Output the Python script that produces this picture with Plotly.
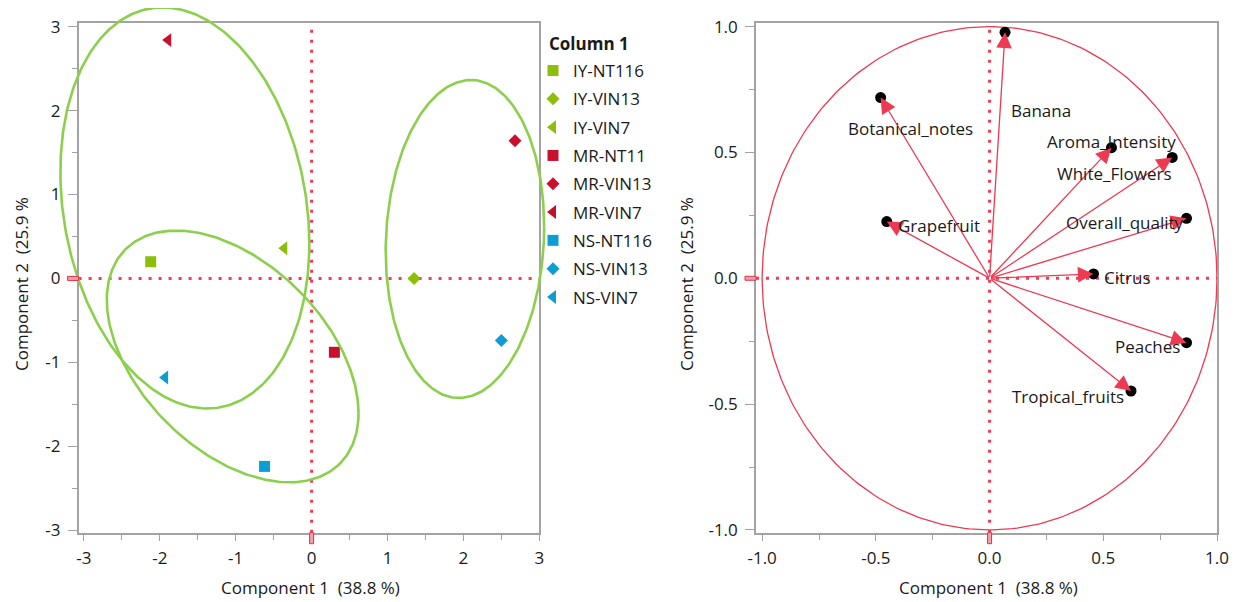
import numpy as np
import plotly.graph_objects as go

# page body has an 8px margin: the figure is sized/positioned to compensate
OFF = 8
W, H = 1240 - OFF, 602 - OFF
FONT = "Open Sans"

# ---------------- data: score plot ----------------
samples = ["IY-NT116", "IY-VIN13", "IY-VIN7", "MR-NT11", "MR-VIN13", "MR-VIN7",
           "NS-NT116", "NS-VIN13", "NS-VIN7"]
comp1 = [-2.12, 1.35, -0.36, 0.30, 2.68, -1.89, -0.62, 2.50, -1.93]
comp2 = [0.20, 0.00, 0.36, -0.88, 1.64, 2.84, -2.24, -0.74, -1.18]

# density ellipses (center and covariance-like shape)
ell_cx = [-1.67, -1.04, 2.02]
ell_cy = [0.84, -0.93, 0.47]
ell_sxx = [2.69, 2.75, 1.09]
ell_syy = [5.71, 2.25, 3.59]
ell_sxy = [-0.70, -1.12, 0.15]

# ---------------- data: loading plot ----------------
attributes = ["Banana", "Botanical_notes", "Grapefruit", "Aroma_Intensity", "White_Flowers",
              "Overall_quality", "Citrus", "Peaches", "Tropical_fruits"]
load1 = [0.068, -0.479, -0.452, 0.536, 0.803, 0.866, 0.457, 0.866, 0.622]
load2 = [0.977, 0.718, 0.225, 0.519, 0.480, 0.238, 0.017, -0.256, -0.448]

# ---------------- tick labels ----------------
left_ticks = [-3, -2, -1, 0, 1, 2, 3]
left_ticktext = ["-3", "-2", "-1", "0", "1", "2", "3"]
right_ticks = [-1.0, -0.5, 0.0, 0.5, 1.0]
right_ticktext = ["-1.0", "-0.5", "0.0", "0.5", "1.0"]

# ---------------- styles / layout (not data) ----------------
group_colors = {"IY": "#8DBE0A", "MR": "#C8102E", "NS": "#0B9DD3"}
wine_symbols = {"NT116": "square", "NT11": "square", "VIN13": "diamond", "VIN7": "triangle-left"}
ellipse_color = "#8CCF4D"
ref_color = "#F03C55"
arrow_color = "#EC3A52"
axis_color = "#A3A3A3"
text_color = "#1A1A1A"

label_anchor = ["left", "center", "left", "center", "center", "center", "left", "right", "right"]
label_dx = [4, 30, 9, 0, -58, -62, 8, -5, -5]
label_dy = [-78, -31, -4, 6, -16, -4, -4, -4, -5]

x1_range = [-3.07, 3.0]
y1_range = [-3.03, 3.04]
x2_range = [-1.027, 1.0]
y2_range = [-1.011, 1.013]
L_px = (78.6, 539.3)
R_px = (756.0, 1217.0)
TB_px = (23.3, 532.7)


def px(xp):
    return (xp - OFF) / W


def py(yp):
    return 1 - (yp - OFF) / H


xdom1 = [px(L_px[0]), px(L_px[1])]
xdom2 = [px(R_px[0]), px(R_px[1])]
ydom = [py(TB_px[1]), py(TB_px[0])]

# overlay (invisible) axes with same scale but larger area, so ellipses are not clipped
sx = (L_px[1] - L_px[0]) / (x1_range[1] - x1_range[0])
sy = (TB_px[1] - TB_px[0]) / (y1_range[1] - y1_range[0])
xdom3 = [0.0, 0.46]
ydom3 = [0.0, 1.0]
x3_range = [x1_range[0] - (xdom1[0] - xdom3[0]) * W / sx,
            x1_range[1] + (xdom3[1] - xdom1[1]) * W / sx]
y3_range = [y1_range[0] - (ydom[0] - ydom3[0]) * H / sy,
            y1_range[1] + (ydom3[1] - ydom[1]) * H / sy]

fig = go.Figure()

# ellipses
t = np.linspace(0, 2 * np.pi, 300)
for cx, cy, sxx, syy, sxy in zip(ell_cx, ell_cy, ell_sxx, ell_syy, ell_sxy):
    l11 = np.sqrt(sxx)
    l21 = sxy / l11
    l22 = np.sqrt(syy - l21 ** 2)
    fig.add_trace(go.Scatter(
        x=cx + l11 * np.cos(t), y=cy + l21 * np.cos(t) + l22 * np.sin(t),
        mode="lines", line=dict(color=ellipse_color, width=2.6),
        xaxis="x3", yaxis="y3", showlegend=False, hoverinfo="skip"))

# score points
for name, cx, cy in zip(samples, comp1, comp2):
    grp, wine = name.split("-")
    sym = wine_symbols[wine]
    size = {"square": 11, "diamond": 10, "triangle-left": 12}[sym]
    fig.add_trace(go.Scatter(
        x=[cx], y=[cy], mode="markers", name=name, legendgroup=name,
        marker=dict(symbol=sym, size=size, color=group_colors[grp], line=dict(width=0)),
        xaxis="x", yaxis="y", showlegend=True))

# unit circle
fig.add_trace(go.Scatter(
    x=np.cos(t), y=np.sin(t), mode="lines", line=dict(color=arrow_color, width=1.3),
    xaxis="x2", yaxis="y2", showlegend=False, hoverinfo="skip"))

# loading points
fig.add_trace(go.Scatter(
    x=load1, y=load2, mode="markers", marker=dict(size=11, color="black"),
    xaxis="x2", yaxis="y2", showlegend=False, text=attributes))

annotations = []
for nm, lx, ly, anc, dx, dy in zip(attributes, load1, load2, label_anchor, label_dx, label_dy):
    annotations.append(dict(
        x=lx, y=ly, xref="x2", yref="y2", ax=0, ay=0, axref="x2", ayref="y2",
        text="", showarrow=True, arrowhead=2, arrowsize=2.4, arrowwidth=1.3,
        arrowcolor=arrow_color, standoff=0, startstandoff=0))
    annotations.append(dict(
        x=lx, y=ly, xref="x2", yref="y2", text=nm, showarrow=False,
        xanchor=anc, yanchor="middle", xshift=dx, yshift=dy,
        font=dict(family=FONT, size=17, color=text_color)))

# axis titles and legend title
title_font = dict(family=FONT, size=17, color=text_color)
xt = "Component 1\u00a0 (38.8 %)"
yt = "Component 2\u00a0 (25.9 %"
annotations += [
    dict(x=px(310), y=py(587), xref="paper", yref="paper", text=xt, showarrow=False,
         font=title_font, xanchor="center", yanchor="middle"),
    dict(x=px(988), y=py(587), xref="paper", yref="paper", text=xt, showarrow=False,
         font=title_font, xanchor="center", yanchor="middle"),
    dict(x=px(21), y=py(284), xref="paper", yref="paper", text=yt, showarrow=False,
         font=title_font, textangle=-90, xanchor="center", yanchor="middle"),
    dict(x=px(686), y=py(284), xref="paper", yref="paper", text=yt, showarrow=False,
         font=title_font, textangle=-90, xanchor="center", yanchor="middle"),
    dict(x=px(547), y=py(43), xref="paper", yref="paper", text="<b>Column 1</b>",
         showarrow=False, font=title_font, xanchor="left", yanchor="middle"),
]

# reference lines (dotted) and axis markers
shapes = []
for xr, yr, xrg, yrg, yd, xd in [("x", "y", x1_range, y1_range, ydom, xdom1),
                                   ("x2", "y2", x2_range, y2_range, ydom, xdom2)]:
    shapes.append(dict(type="line", xref=xr, yref=yr, x0=0, x1=0, y0=yrg[0], y1=yrg[1],
                       line=dict(color=ref_color, width=3, dash="3px,7px"), layer="below"))
    shapes.append(dict(type="line", xref=xr, yref=yr, y0=0, y1=0, x0=xrg[0], x1=xrg[1],
                       line=dict(color=ref_color, width=3, dash="3px,7px"), layer="below"))
    shapes.append(dict(type="rect", xref=xr, yref="paper", xsizemode="pixel", xanchor=0,
                       x0=-2, x1=2, ysizemode="pixel", yanchor=yd[0], y0=-11, y1=0,
                       line=dict(color="#E23048", width=1), fillcolor="#F4A0AC"))
    shapes.append(dict(type="rect", xref="paper", yref=yr, xsizemode="pixel", xanchor=xd[0],
                       x0=-11, x1=0, ysizemode="pixel", yanchor=0, y0=-2, y1=2,
                       line=dict(color="#E23048", width=1), fillcolor="#F4A0AC"))


def axis(domain, rng, tickvals, ticktext, dtick_minor, ticklen, standoff):
    return dict(domain=domain, range=rng, tickmode="array", tickvals=tickvals,
                ticktext=ticktext, ticks="outside", ticklen=ticklen, tickwidth=1,
                tickcolor=axis_color, showline=True, linecolor=axis_color, linewidth=1.6,
                mirror=True, showgrid=False, zeroline=False, automargin=False,
                ticklabelstandoff=standoff,
                tickfont=dict(family=FONT, size=17, color=text_color),
                minor=dict(dtick=dtick_minor, tick0=0, ticks="outside", ticklen=5,
                           tickcolor=axis_color, showgrid=False))


fig.update_layout(
    width=W, height=H, margin=dict(l=0, r=0, t=0, b=0),
    paper_bgcolor="white", plot_bgcolor="rgba(0,0,0,0)",
    font=dict(family=FONT, size=17, color=text_color),
    xaxis=axis(xdom1, x1_range, left_ticks, left_ticktext, 0.5, 6, 3),
    yaxis=axis(ydom, y1_range, left_ticks, left_ticktext, 0.5, 9, 4),
    xaxis2=dict(axis(xdom2, x2_range, right_ticks, right_ticktext, 0.25, 6, 3), anchor="y2"),
    yaxis2=dict(axis(ydom, y2_range, right_ticks, right_ticktext, 0.25, 9, 4), anchor="x2"),
    xaxis3=dict(domain=xdom3, range=x3_range, visible=False, anchor="y3"),
    yaxis3=dict(domain=ydom3, range=y3_range, visible=False, anchor="x3"),
    legend=dict(x=px(533), xanchor="left", y=py(53), yanchor="top",
                bgcolor="rgba(0,0,0,0)", tracegroupgap=3.2,
                font=dict(family=FONT, size=17, color=text_color), itemclick=False),
    annotations=annotations, shapes=shapes, showlegend=True,
)

fig.write_html("out.html")
